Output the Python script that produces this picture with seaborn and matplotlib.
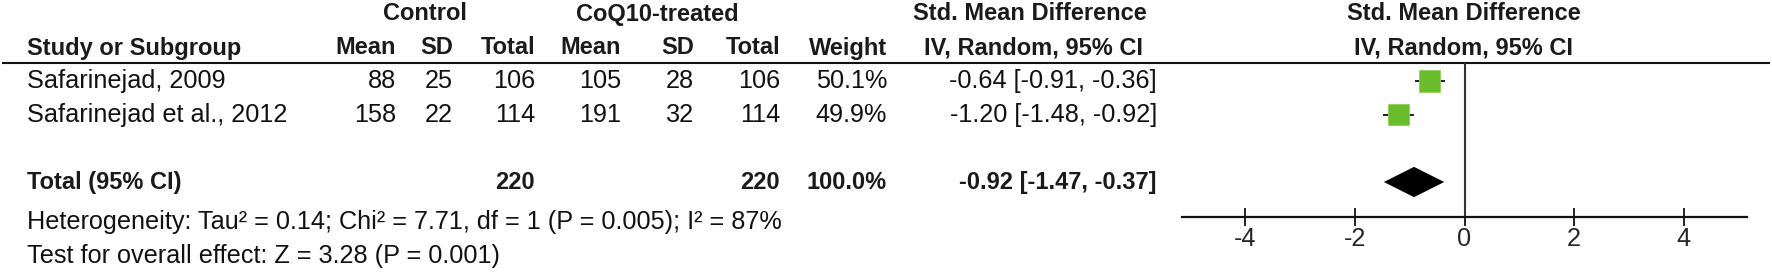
"""Forest plot: CoQ10-treated vs control, std. mean difference (random effects)."""

import matplotlib
matplotlib.use("Agg")
import matplotlib.pyplot as plt
import numpy as np
import pandas as pd
import seaborn as sns

# study level data
studies = ["Safarinejad, 2009", "Safarinejad et al., 2012"]
ctrl_mean = [88, 158]
ctrl_sd = [25, 22]
ctrl_n = [106, 114]
trt_mean = [105, 191]
trt_sd = [28, 32]
trt_n = [106, 114]
weight = [50.1, 49.9]
smd = [-0.64, -1.20]
ci_lo = [-0.91, -1.48]
ci_hi = [-0.36, -0.92]

# pooled estimate
total_smd = -0.92
total_lo = -1.47
total_hi = -0.37
heterogeneity = "Heterogeneity: Tau\u00b2 = 0.14; Chi\u00b2 = 7.71, df = 1 (P = 0.005); I\u00b2 = 87%"
overall_effect = "Test for overall effect: Z = 3.28 (P = 0.001)"

x_ticks = [-4, -2, 0, 2, 4]

df = pd.DataFrame({"study": studies, "smd": smd, "lo": ci_lo, "hi": ci_hi,
                   "weight": weight})
df["row"] = np.arange(len(df))
total_row = len(df) + 1

sns.set_theme(style="white")
plt.rcParams["font.family"] = ["Liberation Sans", "DejaVu Sans"]

W, H = 1772, 272
fig = plt.figure(figsize=(W / 100, H / 100), dpi=100)

# row index -> pixel mapping (row 0 at y=81px, 33.67px per row)
y0_px, pitch = 81.0, 33.67


def row_of(px):
    return (px - y0_px) / pitch


# full-figure axes for the table text, x in pixels, y in row units
tab = fig.add_axes([0, 0, 1, 1])
tab.set_xlim(0, W)
tab.set_ylim(row_of(H), row_of(0))
tab.axis("off")

FS_B = 17.0
FS = 18.2
hdr = dict(fontsize=FS_B, fontweight="bold", color="#1a1a1a", va="center")
txt = dict(fontsize=FS, color="#111111", va="center")

# header rows
r1, r2 = row_of(14), row_of(48)
tab.text(425, r1, "Control", ha="center", **hdr)
tab.text(657, r1, "CoQ10-treated", ha="center", **hdr)
tab.text(1030, r1, "Std. Mean Difference", ha="center", **hdr)
tab.text(1464, r1, "Std. Mean Difference", ha="center", **hdr)

tab.text(27, r2, "Study or Subgroup", ha="left", **hdr)
col_right = {"c_mean": 396, "c_sd": 453, "c_n": 535,
             "t_mean": 621, "t_sd": 694, "t_n": 780, "w": 887, "ci": 1157}
for key, lab in [("c_mean", "Mean"), ("c_sd", "SD"), ("c_n", "Total"),
                 ("t_mean", "Mean"), ("t_sd", "SD"), ("t_n", "Total"),
                 ("w", "Weight")]:
    tab.text(col_right[key], r2, lab, ha="right", **hdr)
tab.text(1034, r2, "IV, Random, 95% CI", ha="center", **hdr)
tab.text(1464, r2, "IV, Random, 95% CI", ha="center", **hdr)

tab.plot([2, 1770], [row_of(62.5)] * 2, color="#111111", lw=1.5,
         solid_capstyle="butt")

# study rows
for i, name in enumerate(studies):
    tab.text(27, i, name, ha="left", **txt)
    vals = {"c_mean": ctrl_mean[i], "c_sd": ctrl_sd[i], "c_n": ctrl_n[i],
            "t_mean": trt_mean[i], "t_sd": trt_sd[i], "t_n": trt_n[i],
            "w": f"{weight[i]:.1f}%"}
    for key, v in vals.items():
        tab.text(col_right[key], i, str(v), ha="right", **txt)
    tab.text(col_right["ci"], i,
             f"{smd[i]:.2f} [{ci_lo[i]:.2f}, {ci_hi[i]:.2f}]", ha="right", **txt)

# total row
tab.text(27, total_row, "Total (95% CI)", ha="left", **hdr)
tab.text(col_right["c_n"], total_row, str(sum(ctrl_n)), ha="right", **hdr)
tab.text(col_right["t_n"], total_row, str(sum(trt_n)), ha="right", **hdr)
tab.text(col_right["w"], total_row, f"{sum(weight):.1f}%", ha="right", **hdr)
tab.text(col_right["ci"], total_row,
         f"{total_smd:.2f} [{total_lo:.2f}, {total_hi:.2f}]", ha="right", **hdr)

tab.text(27, row_of(222), heterogeneity, ha="left", **txt)
tab.text(27, row_of(256), overall_effect, ha="left", **txt)

# forest panel
left_px, right_px, top_px, bot_px = 1182, 1747, 62.5, 217
ax = fig.add_axes([left_px / W, 1 - bot_px / H,
                   (right_px - left_px) / W, (bot_px - top_px) / H])
ax.set_xlim(-5.15, 5.15)
ax.set_ylim(row_of(bot_px), row_of(top_px))
ax.patch.set_alpha(0)

ax.axvline(0, color="#333333", lw=1.5, zorder=1)
ax.hlines(df["row"], df["lo"], df["hi"], color="#111111", lw=1.3, zorder=2)
sns.scatterplot(data=df, x="smd", y="row", marker="s", s=df["weight"] * 4.6,
                color="#6abd2a", edgecolor="#8fd35a", linewidth=0.6,
                legend=False, zorder=3, ax=ax)

dh = 0.45
ax.fill([total_lo, total_smd, total_hi, total_smd],
        [total_row, total_row - dh, total_row, total_row + dh],
        color="black", lw=0, zorder=3)

for side in ["left", "right", "top"]:
    ax.spines[side].set_visible(False)
ax.spines["bottom"].set_color("#111111")
ax.spines["bottom"].set_linewidth(1.6)
ax.set_xticks(x_ticks)
ax.set_xticklabels([str(t) for t in x_ticks])
ax.set_yticks([])
ax.tick_params(axis="x", direction="inout", length=13, width=1.3,
               color="#111111", labelsize=FS, pad=1, bottom=True)
ax.set_xlabel("")
ax.set_ylabel("")

fig.savefig("out.png", dpi=100)
